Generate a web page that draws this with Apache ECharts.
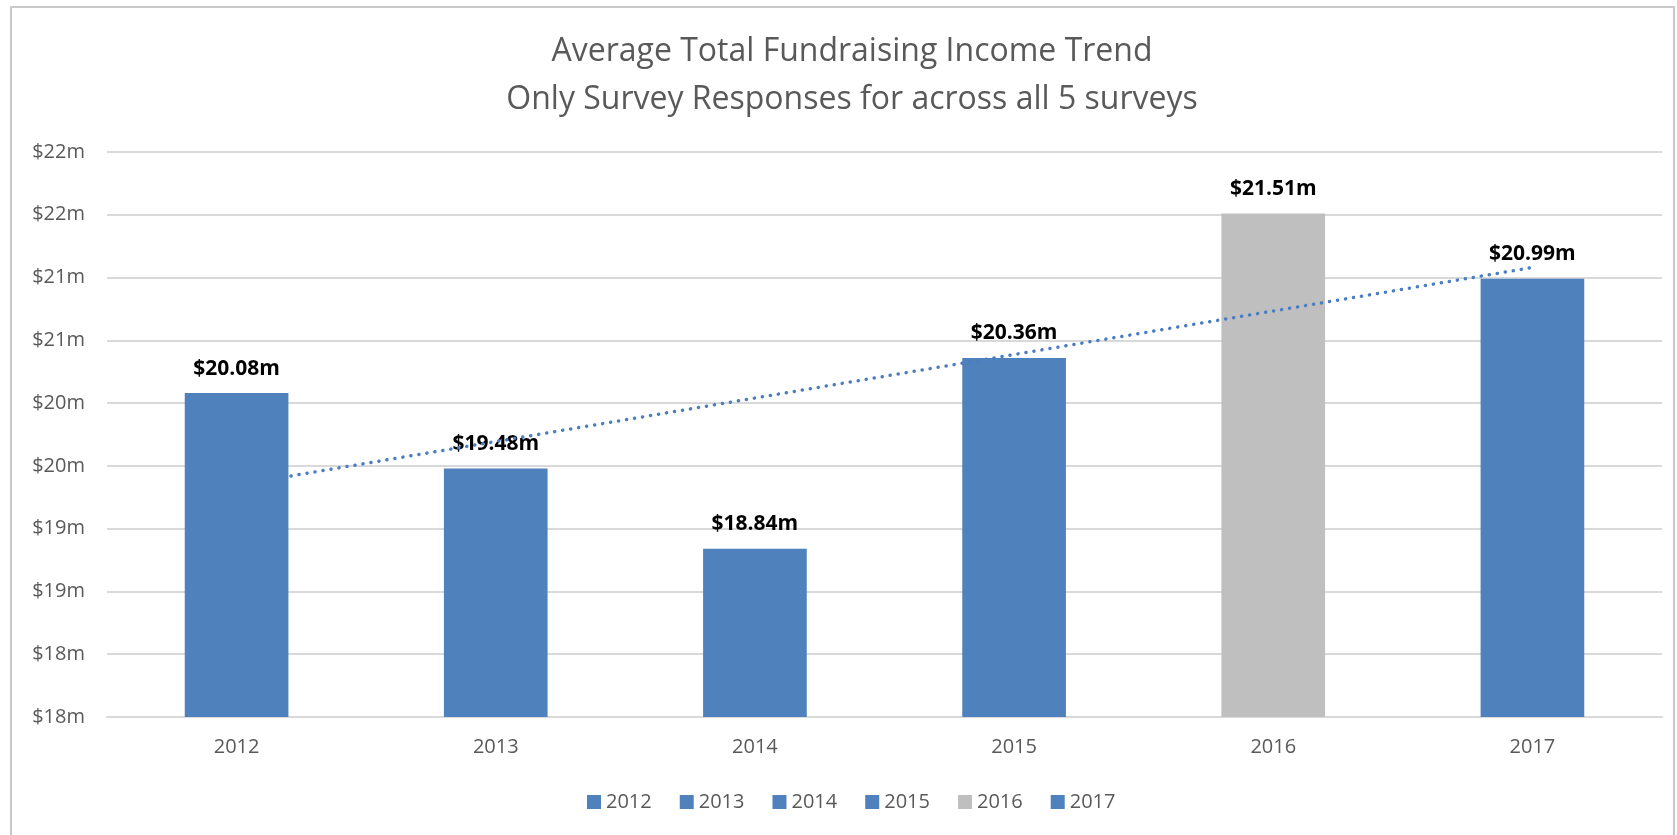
<!DOCTYPE html>
<html lang="en">
<head>
  <meta charset="UTF-8">
  <title>Average Total Fundraising Income Trend</title>
  <style>
    html, body {margin: 0; padding: 0; background: #fff;}
    #chart {width: 1677px; height: 835px;}
  </style>
</head>
<body>
  <div id="chart"></div>

  <script src="https://cdn.jsdelivr.net/npm/echarts@6/dist/echarts.min.js"></script>
  <script>
    // data
    var years = ['2012', '2013', '2014', '2015', '2016', '2017'];
    var income = [20.08, 19.48, 18.84, 20.36, 21.51, 20.99];
    var barColors = ['#4F81BD', '#4F81BD', '#4F81BD', '#4F81BD', '#BFBFBF', '#4F81BD'];
    // dotted trend line ends: [category position, value]
    var trendEnds = [[0.21, 19.42], [5, 21.08]];
    var yMin = 17.5, yMax = 22, yStep = 0.5;

    var font = '"Open Sans", "Noto Sans", sans-serif';
    var grey = '#595959';

    var chart = echarts.init(document.getElementById('chart'));

    // one series per year, stacked so each sits in its own slot
    var series = years.map(function (y, i) {
      return {
        name: y,
        type: 'bar',
        stack: 'all',
        barWidth: '40%',
        itemStyle: {color: barColors[i]},
        label: {
          show: true,
          position: 'top',
          distance: 14,
          color: '#000',
          fontFamily: font,
          fontWeight: 'bold',
          fontSize: 21,
          formatter: function (p) { return '$' + p.value.toFixed(2) + 'm'; }
        },
        data: years.map(function (c, j) { return j === i ? income[i] : '-'; })
      };
    });

    series.push({
      name: 'trend',
      type: 'line',
      xAxisIndex: 1,
      z: 5,
      symbol: 'none',
      silent: true,
      lineStyle: {color: '#4A7EC0', width: 3.5, type: [0.1, 8], cap: 'round'},
      data: trendEnds
    });

    var option = {
      animation: false,
      title: {
        text: 'Average Total Fundraising Income Trend\nOnly Survey Responses for across all 5 surveys',
        left: 847,
        textAlign: 'center',
        top: 23,
        textStyle: {
          color: grey,
          fontFamily: font,
          fontWeight: 'normal',
          fontSize: 32,
          lineHeight: 48
        }
      },
      legend: {
        data: years,
        left: 582,
        top: 787,
        itemWidth: 14,
        itemHeight: 14,
        itemGap: 28,
        icon: 'rect',
        textStyle: {color: grey, fontFamily: font, fontSize: 20}
      },
      grid: {
        left: 107,
        right: 15,
        top: 152,
        bottom: 118,
        containLabel: false,
        outerBoundsMode: 'none'
      },
      xAxis: [{
        type: 'category',
        data: years,
        axisTick: {show: false},
        axisLine: {lineStyle: {color: '#d9d9d9', width: 2}},
        axisLabel: {color: grey, fontFamily: font, fontSize: 20, margin: 20}
      }, {
        type: 'value',
        min: -0.5,
        max: 5.5,
        show: false
      }],
      yAxis: {
        type: 'value',
        min: yMin,
        max: yMax,
        interval: yStep,
        axisLine: {show: false},
        axisTick: {show: false},
        splitLine: {lineStyle: {color: '#d9d9d9', width: 2}},
        axisLabel: {
          color: grey,
          fontFamily: font,
          fontSize: 20,
          margin: 22,
          formatter: function (v) { return '$' + Math.round(v) + 'm'; }
        }
      },
      graphic: [{
        type: 'rect',
        silent: true,
        shape: {x: 11, y: 7, width: 1663, height: 840},
        style: {fill: 'none', stroke: '#c9c9c9', lineWidth: 2}
      }],
      series: series
    };

    chart.setOption(option);
  </script>
</body>
</html>
